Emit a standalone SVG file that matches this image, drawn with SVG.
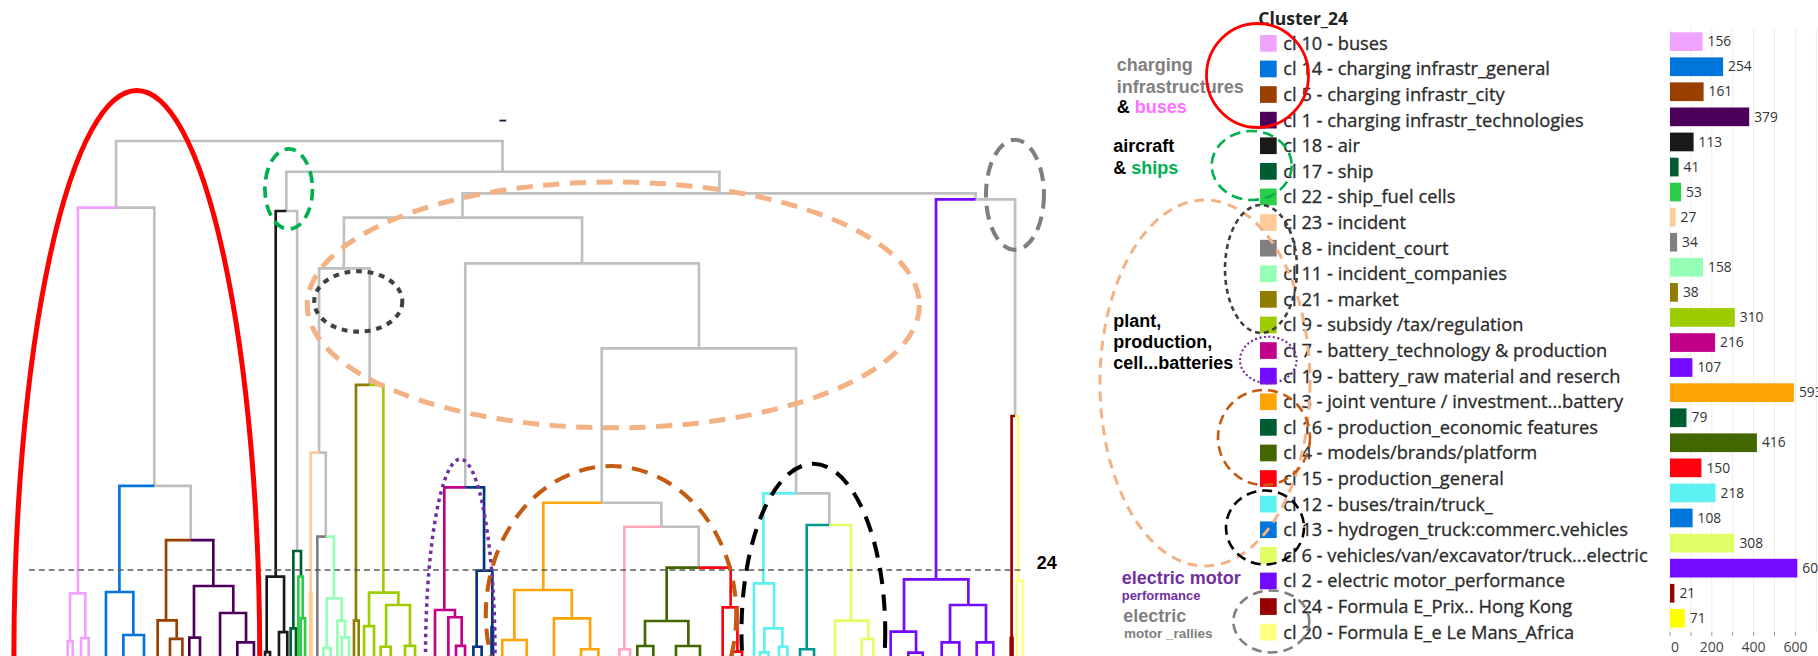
<svg xmlns="http://www.w3.org/2000/svg" width="1818" height="656" viewBox="0 0 1818 656">
<defs>
<style>
.ln{fill:none;stroke-width:2.3;stroke-linecap:butt;stroke-linejoin:miter}
.gy{stroke:#BFBFBF}
.an{fill:none}
.lg{font-family:"Open Sans","Noto Sans",sans-serif;font-size:18.3px;fill:#2b2b2b;stroke:#2b2b2b;stroke-width:0.3}
.bv{font-family:"Open Sans","Noto Sans",sans-serif;font-size:13.8px;fill:#333333}
.ax{font-family:"Open Sans","Noto Sans",sans-serif;font-size:14px;fill:#444444;text-anchor:middle}
.bl{font-family:"Liberation Sans",Arial,sans-serif;font-weight:bold;font-size:18px}
.grid{stroke:#EDEDED;stroke-width:1}
</style>
</defs>
<rect width="1818" height="656" fill="#FFFFFF"/>

<g id="dendrogram" transform="scale(1.159439)">
  <g id="connectors" class="ln gy">
    <path d="M100.1,179.1 V121.6 H433.4 V148.1"/>
    <path d="M133.1,419 V179.1 H100.1"/>
    <path d="M164.5,465.8 V419 H133.1"/>
    <path d="M247,182 V148.1 H620.5 V166.8"/>
    <path d="M256.3,475.2 V182 H247"/>
    <path d="M398.9,187.7 V166.8 H841.4 V172"/>
    <path d="M875.5,358.8 V172 H841.4"/>
    <path d="M296.6,231.4 V187.7 H502 V227.1"/>
    <path d="M275.2,390.4 V231.4 H318.8 V332"/>
    <path d="M281,462.9 V390.4 H275.2"/>
    <path d="M401.3,420.3 V227.1 H602.8 V300.4"/>
    <path d="M519,433.6 V300.4 H686.6 V425.5"/>
    <path d="M570.4,454.3 V433.6 H519"/>
    <path d="M602.6,489.6 V454.3 H570.4"/>
    <path d="M715.3,452.8 V425.5 H686.6"/>
  </g>
  <path d="M430.8,104 H436.6" stroke="#1a1a3a" stroke-width="1.6"/>

  <g id="cluster-a" class="ln" stroke="#F0A3FF">
    <path d="M67.2,511.8 V179.1 H100.1"/>
    <path d="M60.4,552.9 V511.8 H73.6 V550.3"/>
    <path d="M58.4,566 V552.9 H62.7 V566"/>
    <path d="M69.9,566 V550.3 H76.5 V566"/>
  </g>
  <g id="cluster-b" class="ln" stroke="#0075DC">
    <path d="M103,510.6 V419 H133.1"/>
    <path d="M91.4,566 V510.6 H115 V547.7"/>
    <path d="M106.4,566 V547.7 H124.2 V566"/>
  </g>
  <g id="cluster-c" class="ln" stroke="#993F00">
    <path d="M143.2,535 V465.8 H164.5"/>
    <path d="M136,566 V535 H152.4 V551"/>
    <path d="M146.6,566 V551 H157.3 V566"/>
  </g>
  <g id="cluster-d" class="ln" stroke="#4C005C">
    <path d="M184,505.4 V465.8 H164.5"/>
    <path d="M167.3,550 V505.4 H201.2 V528.7"/>
    <path d="M163.3,566 V550 H172.5 V566"/>
    <path d="M189.8,566 V528.7 H212.2 V554"/>
    <path d="M204.7,566 V554 H219 V566"/>
  </g>
  <g id="cluster-e" class="ln" stroke="#191919">
    <path d="M237.8,497.4 V182 H247"/>
    <path d="M230,562.4 V497.4 H245 V545.2"/>
    <path d="M228.6,566 V562.4 H232.9 V566"/>
    <path d="M240.6,566 V545.2 H247.8 V566"/>
  </g>
  <g id="cluster-f" class="ln">
    <path d="M253,542 V475.2 H256.3" stroke="#005C31"/>
    <path d="M250.7,566 V542 H255.3 V566" stroke="#005C31"/>
    <path d="M259.6,497.4 V475.2 H256.3" stroke="#005C31"/>
    <path d="M257.3,566 V497.4 H261.1 V533.3" stroke="#2BCE48"/>
    <path d="M259.3,566 V533.3 H263.1 V566" stroke="#2BCE48"/>
  </g>
  <g id="cluster-g" class="ln">
    <path d="M268,566 V390.4 H275.2" stroke="#FFCC99"/>
    <rect x="266.4" y="510.4" width="3.4" height="55.6" fill="#FFCC99" stroke="none"/>
    <path d="M273.7,566 V462.9 H281" stroke="#808080"/>
    <path d="M288,516 V462.9 H281" stroke="#94FFB5"/>
    <path d="M281.8,559 V516 H294.7 V535.3" stroke="#94FFB5"/>
    <path d="M278.9,566 V559 H285.2 V566" stroke="#94FFB5"/>
    <path d="M291,566 V535.3 H297.6 V549.7" stroke="#94FFB5"/>
    <path d="M294.7,566 V549.7 H301 V566" stroke="#94FFB5"/>
  </g>
  <g id="cluster-h" class="ln">
    <path d="M307,535.3 V332 H318.8" stroke="#8F7C00"/>
    <path d="M305.3,566 V535.3 H309.4 V566" stroke="#8F7C00"/>
    <path d="M330.6,511.2 V332 H318.8" stroke="#9DCC00"/>
    <path d="M318.3,540 V511.2 H343.6 V521.8" stroke="#9DCC00"/>
    <path d="M314,566 V540 H322.6 V566" stroke="#9DCC00"/>
    <path d="M333,557.8 V521.8 H353.6 V557" stroke="#9DCC00"/>
    <path d="M328.3,566 V557.8 H337 V566" stroke="#9DCC00"/>
    <path d="M349.3,566 V557 H358 V566" stroke="#9DCC00"/>
  </g>
  <g id="cluster-i" class="ln">
    <path d="M383.2,526.1 V420.3 H401.3" stroke="#C20088"/>
    <path d="M375.2,566 V526.1 H392.4 V532.4" stroke="#C20088"/>
    <path d="M386.7,566 V532.4 H398.2 V557" stroke="#C20088"/>
    <path d="M393.3,566 V557 H401.1 V566" stroke="#C20088"/>
    <path d="M417.5,492.2 V420.3 H401.3" stroke="#003380"/>
    <path d="M411.1,557.8 V492.2 H424.6 V566" stroke="#003380"/>
    <path d="M408.3,566 V557.8 H415.4 V566" stroke="#003380"/>
    <rect x="422.8" y="540" width="3.6" height="26" fill="#003380" stroke="none"/>
  </g>
  <g id="cluster-j" class="ln" stroke="#FFA405">
    <path d="M468.6,508.9 V433.6 H519"/>
    <path d="M443.6,552 V508.9 H493.1 V533.3"/>
    <path d="M433.2,566 V552 H454.3 V566"/>
    <path d="M477.8,566 V533.3 H508.9 V560"/>
    <path d="M501.1,566 V560 H516.1 V566"/>
  </g>
  <g id="cluster-k" class="ln" stroke="#FFA8BB">
    <path d="M538.5,560 V454.3 H570.4"/>
    <path d="M534.2,566 V560 H543.4 V566"/>
  </g>
  <g id="cluster-l" class="ln" stroke="#426600">
    <path d="M575,535.6 V489.6 H602.6"/>
    <path d="M556.3,557.2 V535.6 H593.7 V557.2"/>
    <path d="M549.7,566 V557.2 H563.5 V566"/>
    <path d="M583,566 V557.2 H603.7 V566"/>
  </g>
  <g id="cluster-m" class="ln" stroke="#FF0010">
    <path d="M630.2,523.8 V489.6 H602.6"/>
    <path d="M623.3,566 V523.8 H636 V562"/>
    <path d="M631.5,566 V562 H640 V566"/>
  </g>
  <g id="cluster-n" class="ln" stroke="#5EF1F2">
    <path d="M658.4,503.1 V425.5 H686.6"/>
    <path d="M650.3,566 V503.1 H667.6 V541.9"/>
    <path d="M659.2,562.6 V541.9 H674.8 V557.8"/>
    <path d="M655.4,566 V562.6 H662.9 V566"/>
    <path d="M671.9,566 V557.8 H679.1 V566"/>
  </g>
  <g id="cluster-o" class="ln">
    <path d="M695.8,560 V452.8 H715.3" stroke="#00998F"/>
    <path d="M690,566 V560 H702.1 V566" stroke="#00998F"/>
    <path d="M734,535.3 V452.8 H715.3" stroke="#E0FF66"/>
    <path d="M720.2,566 V535.3 H748.9 V551.1" stroke="#E0FF66"/>
    <path d="M743.2,566 V551.1 H753.3 V566" stroke="#E0FF66"/>
  </g>
  <g id="cluster-p" class="ln" stroke="#740AFF">
    <path d="M807.3,499.7 V172 H841.4"/>
    <path d="M779.7,544.8 V499.7 H835.2 V521.8"/>
    <path d="M768.2,566 V544.8 H790.1 V562.9"/>
    <path d="M783.4,566 V562.9 H795.8 V566"/>
    <path d="M819.4,554 V521.8 H850.4 V554"/>
    <path d="M812.2,566 V554 H827.4 V566"/>
    <path d="M842.4,566 V554 H856.7 V566"/>
  </g>
  <g id="cluster-q" class="ln">
    <path d="M872.5,566 V358.8 H875.5" stroke="#990000"/>
    <rect x="870.6" y="549" width="3.8" height="17" fill="#990000" stroke="none"/>
    <path d="M878.3,500.8 V358.8 H875.5" stroke="#FFFF80"/>
    <path d="M876.9,566 V500.8 H882.1 V566" stroke="#FFFF80"/>
  </g>

  <path id="cut-line" d="M25,491.6 H882" fill="none" stroke="#595959" stroke-width="1.3" stroke-dasharray="5 3.5"/>

  <g id="dendro-annotations" class="an">
    <ellipse cx="529" cy="263" rx="264" ry="106" stroke="#F4B183" stroke-width="4.3" stroke-dasharray="14 9"/>
    <ellipse cx="118" cy="566" rx="106" ry="488" stroke="#FF0000" stroke-width="4.3"/>
    <ellipse cx="249" cy="163" rx="20.5" ry="34.6" stroke="#00B050" stroke-width="3.2" stroke-dasharray="10 6"/>
    <ellipse cx="309" cy="260" rx="38" ry="26" stroke="#404040" stroke-width="3.5" stroke-dasharray="5 5"/>
    <ellipse cx="397" cy="566" rx="30" ry="170" stroke="#7030A0" stroke-width="3" stroke-dasharray="3 3.5"/>
    <ellipse cx="527" cy="530" rx="108" ry="128" stroke="#C55A11" stroke-width="3.5" stroke-dasharray="14 9"/>
    <ellipse cx="701.5" cy="545" rx="62" ry="145" stroke="#000000" stroke-width="3.5" stroke-dasharray="14 9"/>
    <ellipse cx="875.4" cy="168" rx="25" ry="47.5" stroke="#7F7F7F" stroke-width="3.5" stroke-dasharray="12 7"/>
  </g>
</g>

<text id="cut-label" x="1036.7" y="569" class="bl" font-size="17" fill="#000000">24</text>

<g id="axis">
  <g class="grid">
    <line x1="1670" y1="28" x2="1670" y2="632"/>
    <line x1="1690.9" y1="28" x2="1690.9" y2="632"/>
    <line x1="1711.8" y1="28" x2="1711.8" y2="632"/>
    <line x1="1732.7" y1="28" x2="1732.7" y2="632"/>
    <line x1="1753.6" y1="28" x2="1753.6" y2="632"/>
    <line x1="1774.5" y1="28" x2="1774.5" y2="632"/>
    <line x1="1795.4" y1="28" x2="1795.4" y2="632"/>
    <line x1="1816.3" y1="28" x2="1816.3" y2="632"/>
  </g>
  <g stroke="#999999" stroke-width="1">
    <line x1="1670" y1="632" x2="1670" y2="636"/>
    <line x1="1690.9" y1="632" x2="1690.9" y2="636"/>
    <line x1="1711.8" y1="632" x2="1711.8" y2="636"/>
    <line x1="1732.7" y1="632" x2="1732.7" y2="636"/>
    <line x1="1753.6" y1="632" x2="1753.6" y2="636"/>
    <line x1="1774.5" y1="632" x2="1774.5" y2="636"/>
    <line x1="1795.4" y1="632" x2="1795.4" y2="636"/>
  </g>
  <text class="ax" x="1675" y="652">0</text>
  <text class="ax" x="1711.8" y="652">200</text>
  <text class="ax" x="1753.6" y="652">400</text>
  <text class="ax" x="1795.4" y="652">600</text>
</g>

<text id="legend-title" x="1258.3" y="25" font-family="'Open Sans','Noto Sans',sans-serif" font-weight="bold" font-size="17.5" fill="#222222">Cluster_24</text>

<g id="legend">
  <g id="cl10"><rect x="1260" y="35" width="16.7" height="16.7" fill="#F0A3FF"/><text class="lg" x="1283.3" y="49.8">cl 10 - buses</text><rect x="1670" y="32.3" width="32.6" height="18.7" fill="#F0A3FF"/><text class="bv" x="1707.6" y="46.3">156</text></g>
  <g id="cl14"><rect x="1260" y="60.6" width="16.7" height="16.7" fill="#0075DC"/><text class="lg" x="1283.3" y="75.4">cl 14 - charging infrastr_general</text><rect x="1670" y="57.4" width="53.1" height="18.7" fill="#0075DC"/><text class="bv" x="1728.1" y="71.4">254</text></g>
  <g id="cl5"><rect x="1260" y="86.2" width="16.7" height="16.7" fill="#993F00"/><text class="lg" x="1283.3" y="101">cl 5 - charging infrastr_city</text><rect x="1670" y="82.4" width="33.6" height="18.7" fill="#993F00"/><text class="bv" x="1708.6" y="96.4">161</text></g>
  <g id="cl1"><rect x="1260" y="111.8" width="16.7" height="16.7" fill="#4C005C"/><text class="lg" x="1283.3" y="126.6">cl 1 - charging infrastr_technologies</text><rect x="1670" y="107.5" width="79.2" height="18.7" fill="#4C005C"/><text class="bv" x="1754.2" y="121.5">379</text></g>
  <g id="cl18"><rect x="1260" y="137.4" width="16.7" height="16.7" fill="#191919"/><text class="lg" x="1283.3" y="152.2">cl 18 - air</text><rect x="1670" y="132.6" width="23.6" height="18.7" fill="#191919"/><text class="bv" x="1698.6" y="146.6">113</text></g>
  <g id="cl17"><rect x="1260" y="163" width="16.7" height="16.7" fill="#005C31"/><text class="lg" x="1283.3" y="177.8">cl 17 - ship</text><rect x="1670" y="157.7" width="8.6" height="18.7" fill="#005C31"/><text class="bv" x="1683.6" y="171.7">41</text></g>
  <g id="cl22"><rect x="1260" y="188.6" width="16.7" height="16.7" fill="#2BCE48"/><text class="lg" x="1283.3" y="203.4">cl 22 - ship_fuel cells</text><rect x="1670" y="182.7" width="11.1" height="18.7" fill="#2BCE48"/><text class="bv" x="1686.1" y="196.7">53</text></g>
  <g id="cl23"><rect x="1260" y="214.2" width="16.7" height="16.7" fill="#FFCC99"/><text class="lg" x="1283.3" y="229">cl 23 - incident</text><rect x="1670" y="207.8" width="5.6" height="18.7" fill="#FFCC99"/><text class="bv" x="1680.6" y="221.8">27</text></g>
  <g id="cl8"><rect x="1260" y="239.8" width="16.7" height="16.7" fill="#808080"/><text class="lg" x="1283.3" y="254.6">cl 8 - incident_court</text><rect x="1670" y="232.9" width="7.1" height="18.7" fill="#808080"/><text class="bv" x="1682.1" y="246.9">34</text></g>
  <g id="cl11"><rect x="1260" y="265.4" width="16.7" height="16.7" fill="#94FFB5"/><text class="lg" x="1283.3" y="280.2">cl 11 - incident_companies</text><rect x="1670" y="257.9" width="33" height="18.7" fill="#94FFB5"/><text class="bv" x="1708" y="271.9">158</text></g>
  <g id="cl21"><rect x="1260" y="291" width="16.7" height="16.7" fill="#8F7C00"/><text class="lg" x="1283.3" y="305.8">cl 21 - market</text><rect x="1670" y="283" width="7.9" height="18.7" fill="#8F7C00"/><text class="bv" x="1682.9" y="297">38</text></g>
  <g id="cl9"><rect x="1260" y="316.6" width="16.7" height="16.7" fill="#9DCC00"/><text class="lg" x="1283.3" y="331.4">cl 9 - subsidy /tax/regulation</text><rect x="1670" y="308.1" width="64.8" height="18.7" fill="#9DCC00"/><text class="bv" x="1739.8" y="322.1">310</text></g>
  <g id="cl7"><rect x="1260" y="342.2" width="16.7" height="16.7" fill="#C20088"/><text class="lg" x="1283.3" y="357">cl 7 - battery_technology &amp; production</text><rect x="1670" y="333.2" width="45.1" height="18.7" fill="#C20088"/><text class="bv" x="1720.1" y="347.2">216</text></g>
  <g id="cl19"><rect x="1260" y="367.8" width="16.7" height="16.7" fill="#740AFF"/><text class="lg" x="1283.3" y="382.6">cl 19 - battery_raw material and reserch</text><rect x="1670" y="358.2" width="22.4" height="18.7" fill="#740AFF"/><text class="bv" x="1697.4" y="372.2">107</text></g>
  <g id="cl3"><rect x="1260" y="393.4" width="16.7" height="16.7" fill="#FFA405"/><text class="lg" x="1283.3" y="408.2">cl 3 - joint venture / investment...battery</text><rect x="1670" y="383.3" width="123.9" height="18.7" fill="#FFA405"/><text class="bv" x="1798.9" y="397.3">593</text></g>
  <g id="cl16"><rect x="1260" y="419" width="16.7" height="16.7" fill="#005C31"/><text class="lg" x="1283.3" y="433.8">cl 16 - production_economic features</text><rect x="1670" y="408.4" width="16.5" height="18.7" fill="#005C31"/><text class="bv" x="1691.5" y="422.4">79</text></g>
  <g id="cl4"><rect x="1260" y="444.6" width="16.7" height="16.7" fill="#426600"/><text class="lg" x="1283.3" y="459.4">cl 4 - models/brands/platform</text><rect x="1670" y="433.4" width="86.9" height="18.7" fill="#426600"/><text class="bv" x="1761.9" y="447.4">416</text></g>
  <g id="cl15"><rect x="1260" y="470.2" width="16.7" height="16.7" fill="#FF0010"/><text class="lg" x="1283.3" y="485">cl 15 - production_general</text><rect x="1670" y="458.5" width="31.4" height="18.7" fill="#FF0010"/><text class="bv" x="1706.4" y="472.5">150</text></g>
  <g id="cl12"><rect x="1260" y="495.8" width="16.7" height="16.7" fill="#5EF1F2"/><text class="lg" x="1283.3" y="510.6">cl 12 - buses/train/truck_</text><rect x="1670" y="483.6" width="45.6" height="18.7" fill="#5EF1F2"/><text class="bv" x="1720.6" y="497.6">218</text></g>
  <g id="cl13"><rect x="1260" y="521.4" width="16.7" height="16.7" fill="#0075DC"/><text class="lg" x="1283.3" y="536.2">cl 13 - hydrogen_truck:commerc.vehicles</text><rect x="1670" y="508.6" width="22.6" height="18.7" fill="#0075DC"/><text class="bv" x="1697.6" y="522.6">108</text></g>
  <g id="cl6"><rect x="1260" y="547" width="16.7" height="16.7" fill="#E0FF66"/><text class="lg" x="1283.3" y="561.8">cl 6 - vehicles/van/excavator/truck...electric</text><rect x="1670" y="533.7" width="64.4" height="18.7" fill="#E0FF66"/><text class="bv" x="1739.4" y="547.7">308</text></g>
  <g id="cl2"><rect x="1260" y="572.6" width="16.7" height="16.7" fill="#740AFF"/><text class="lg" x="1283.3" y="587.4">cl 2 - electric motor_performance</text><rect x="1670" y="558.8" width="127.3" height="18.7" fill="#740AFF"/><text class="bv" x="1802.3" y="572.8">60</text></g>
  <g id="cl24"><rect x="1260" y="598.2" width="16.7" height="16.7" fill="#990000"/><text class="lg" x="1283.3" y="613">cl 24 - Formula E_Prix.. Hong Kong</text><rect x="1670" y="583.9" width="4.4" height="18.7" fill="#990000"/><text class="bv" x="1679.4" y="597.9">21</text></g>
  <g id="cl20"><rect x="1260" y="623.8" width="16.7" height="16.7" fill="#FFFF80"/><text class="lg" x="1283.3" y="638.6">cl 20 - Formula E_e Le Mans_Africa</text><rect x="1670" y="608.9" width="14.8" height="18.7" fill="#FFFF00"/><text class="bv" x="1689.8" y="622.9">71</text></g>
</g>

<g id="group-labels" class="bl">
  <text x="1116.7" y="71" fill="#808080">charging</text>
  <text x="1116.7" y="92.7" fill="#808080">infrastructures</text>
  <text x="1116.7" y="113.3" fill="#000000">&amp; <tspan fill="#FF70FF">buses</tspan></text>
  <text x="1113.3" y="151.7" fill="#000000">aircraft</text>
  <text x="1113.3" y="174" fill="#000000">&amp; <tspan fill="#00B050">ships</tspan></text>
  <text x="1113.3" y="326.7" fill="#000000">plant,</text>
  <text x="1113.3" y="348.3" fill="#000000">production,</text>
  <text x="1113.3" y="369.3" fill="#000000">cell...batteries</text>
  <text x="1121.7" y="584.3" fill="#7030A0">electric motor</text>
  <text x="1121.7" y="600" fill="#7030A0" font-size="13">performance</text>
  <text x="1123.3" y="621.7" fill="#808080">electric</text>
  <text x="1124" y="638.3" fill="#808080" font-size="13.5">motor _rallies</text>
</g>

<g id="legend-annotations" class="an">
  <ellipse cx="1205" cy="383" rx="105" ry="183" stroke="#F4B183" stroke-width="3" stroke-dasharray="10 7"/>
  <ellipse cx="1257.5" cy="75.5" rx="51" ry="52" stroke="#FF0000" stroke-width="2.8"/>
  <ellipse cx="1251.7" cy="165.5" rx="40" ry="34.5" stroke="#00B050" stroke-width="2.6" stroke-dasharray="11 6"/>
  <ellipse cx="1261" cy="269" rx="36" ry="64" stroke="#404040" stroke-width="2.6" stroke-dasharray="5 4"/>
  <ellipse cx="1268.3" cy="360" rx="28.3" ry="23.3" stroke="#7030A0" stroke-width="2.2" stroke-dasharray="2 2.5"/>
  <ellipse cx="1264" cy="437.5" rx="46" ry="47.5" stroke="#C55A11" stroke-width="2.6" stroke-dasharray="10 6"/>
  <ellipse cx="1265" cy="527.5" rx="39" ry="37" stroke="#000000" stroke-width="2.6" stroke-dasharray="10 6"/>
  <ellipse cx="1271.3" cy="621.5" rx="38" ry="31" stroke="#808080" stroke-width="2.6" stroke-dasharray="10 6"/>
</g>
</svg>
